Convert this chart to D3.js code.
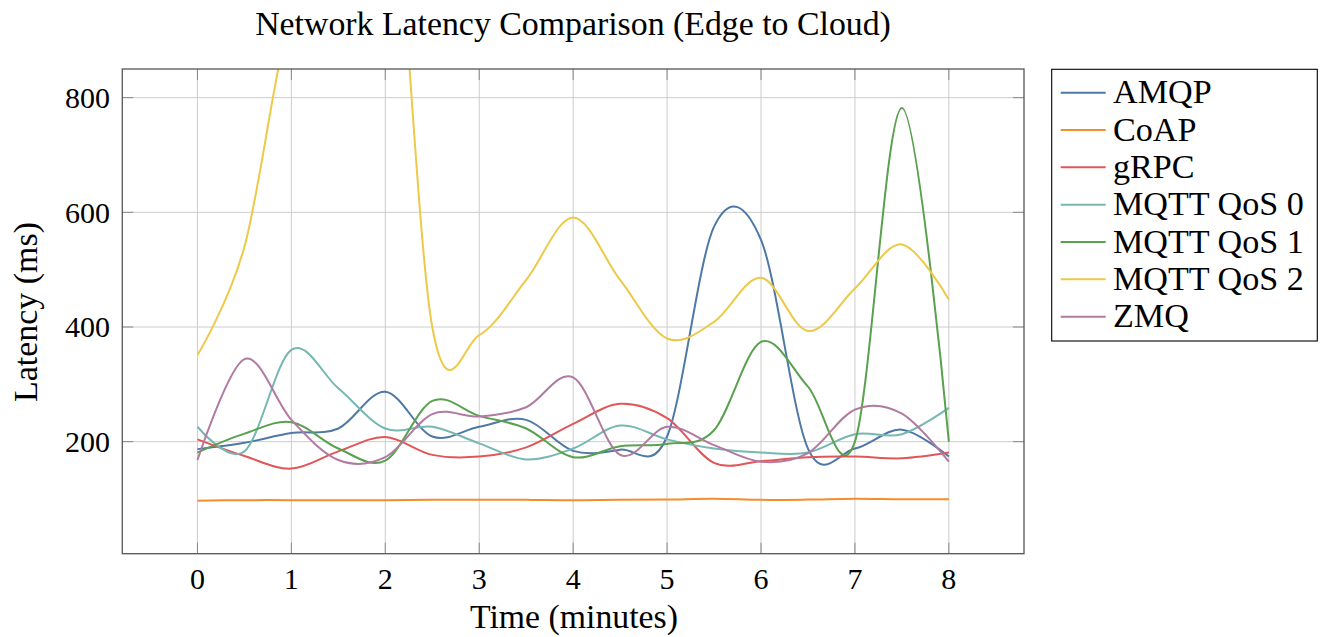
<!DOCTYPE html>
<html>
<head>
<meta charset="utf-8">
<script src="https://cdn.jsdelivr.net/npm/d3@7"></script>
<style>
  html, body { margin: 0; padding: 0; background: #ffffff; }
  svg { display: block; }
  text { font-family: "Liberation Serif", "Times New Roman", serif; fill: #000; }
</style>
</head>
<body>
<svg id="chart" width="1324" height="637"></svg>
<script>
// ---------- data ----------
const times = [0, 0.5, 1, 1.5, 2, 2.5, 3, 3.5, 4, 4.5, 5, 5.5, 6, 6.5, 7, 7.5, 8];
const seriesNames = ["AMQP", "CoAP", "gRPC", "MQTT QoS 0", "MQTT QoS 1", "MQTT QoS 2", "ZMQ"];
const amqp  = [187, 198, 215, 223, 287, 209, 226, 238, 184, 186, 209, 575, 552, 188, 188, 221, 174];
const coap  = [97, 98, 98, 98, 98, 98.5, 98.5, 98.5, 98, 98.5, 99, 100.5, 98.5, 99, 100.5, 99.5, 99.5];
const grpc  = [204, 175, 153, 183, 208, 177, 174, 190, 231, 266, 241, 163, 166, 173, 174, 171, 181];
const mqtt0 = [226, 183, 360, 293, 223, 226, 197, 169, 188, 228, 204, 188, 181, 181, 213, 213, 259];
const mqtt1 = [181, 214, 234, 188, 167, 271, 245, 223, 173, 192, 196, 220, 374, 296, 200, 782, 200];
const mqtt2 = [351, 540, 944, 1000, 1300, 400, 386, 482, 591, 482, 380, 409, 486, 393, 467, 544, 448];
const zmq   = [168, 344, 238, 168, 173, 248, 244, 260, 312, 177, 226, 194, 165, 180, 256, 249, 165];
const seriesValues = [amqp, coap, grpc, mqtt0, mqtt1, mqtt2, zmq];
const colors = ["#4e79a7", "#f28e2b", "#e15759", "#76b7b2", "#59a14f", "#edc948", "#b07aa1"];
const xTicks = [0, 1, 2, 3, 4, 5, 6, 7, 8];
const yTicks = [200, 400, 600, 800];
const xDomain = [-0.8, 8.8];
const yDomain = [4.6, 850];
const titleText = "Network Latency Comparison (Edge to Cloud)";
const xLabelText = "Time (minutes)";
const yLabelText = "Latency (ms)";

// ---------- layout ----------
const svg = d3.select("#chart");
const plot = { left: 122.3, top: 69, right: 1024, bottom: 553.7 };
const x = d3.scaleLinear().domain(xDomain).range([plot.left, plot.right]);
const y = d3.scaleLinear().domain(yDomain).range([plot.bottom, plot.top]);

function fitWidth(sel, target, base) {
  sel.style("font-size", base + "px");
  const w = sel.node().getComputedTextLength();
  const size = base * target / w;
  sel.style("font-size", size + "px");
  return size;
}

// grid
const grid = svg.append("g");
grid.selectAll("line.vx").data(xTicks).join("line")
  .attr("x1", d => x(d)).attr("x2", d => x(d))
  .attr("y1", plot.top).attr("y2", plot.bottom)
  .attr("stroke", "#cccccc").attr("stroke-width", 1);
grid.selectAll("line.hy").data(yTicks).join("line")
  .attr("y1", d => y(d)).attr("y2", d => y(d))
  .attr("x1", plot.left).attr("x2", plot.right)
  .attr("stroke", "#cccccc").attr("stroke-width", 1);

// ticks (inward, all four sides)
const tickLen = 11;
const tg = svg.append("g").attr("stroke", "#8a8a8a").attr("stroke-width", 1);
xTicks.forEach(d => {
  tg.append("line").attr("x1", x(d)).attr("x2", x(d)).attr("y1", plot.bottom).attr("y2", plot.bottom - tickLen);
  tg.append("line").attr("x1", x(d)).attr("x2", x(d)).attr("y1", plot.top).attr("y2", plot.top + tickLen);
});
yTicks.forEach(d => {
  tg.append("line").attr("y1", y(d)).attr("y2", y(d)).attr("x1", plot.left).attr("x2", plot.left + tickLen);
  tg.append("line").attr("y1", y(d)).attr("y2", y(d)).attr("x1", plot.right).attr("x2", plot.right - tickLen);
});

// clip
svg.append("clipPath").attr("id", "plotclip").append("rect")
  .attr("x", plot.left).attr("y", plot.top)
  .attr("width", plot.right - plot.left).attr("height", plot.bottom - plot.top);

// lines
const line = d3.line()
  .x((d, i) => x(times[i]))
  .y(d => y(d))
  .curve(d3.curveCardinal.tension(0));
const lg = svg.append("g").attr("clip-path", "url(#plotclip)");
seriesValues.forEach((vals, k) => {
  lg.append("path").datum(vals)
    .attr("d", line)
    .attr("fill", "none")
    .attr("stroke", colors[k])
    .attr("stroke-width", 2)
    .attr("stroke-linejoin", "round");
});

// frame
svg.append("rect")
  .attr("x", plot.left).attr("y", plot.top)
  .attr("width", plot.right - plot.left).attr("height", plot.bottom - plot.top)
  .attr("fill", "none").attr("stroke", "#555555").attr("stroke-width", 1.3);

// tick labels
svg.append("g").selectAll("text").data(xTicks).join("text")
  .attr("x", d => x(d)).attr("y", 589)
  .attr("text-anchor", "middle")
  .style("font-size", "30px")
  .text(d => d);
svg.append("g").selectAll("text").data(yTicks).join("text")
  .attr("x", 110).attr("y", d => y(d))
  .attr("dy", "0.34em")
  .attr("text-anchor", "end")
  .style("font-size", "30px")
  .text(d => d);

// title and axis labels
const title = svg.append("text").attr("x", 573).attr("y", 35)
  .attr("text-anchor", "middle").text(titleText);
fitWidth(title, 636, 28);
const xl = svg.append("text").attr("x", 574).attr("y", 628)
  .attr("text-anchor", "middle").text(xLabelText);
fitWidth(xl, 208, 30);
const yl = svg.append("text")
  .attr("transform", "translate(37,312) rotate(-90)")
  .attr("text-anchor", "middle").text(yLabelText);
fitWidth(yl, 180, 30);

// legend
const leg = svg.append("g");
leg.append("rect")
  .attr("x", 1051.7).attr("y", 69.3).attr("width", 265.6).attr("height", 271.7)
  .attr("fill", "#fff").attr("stroke", "#000").attr("stroke-width", 1.1);
const rowY = i => 92.7 + i * 37.33;
seriesNames.forEach((name, i) => {
  leg.append("line")
    .attr("x1", 1060.7).attr("x2", 1105.7)
    .attr("y1", rowY(i)).attr("y2", rowY(i))
    .attr("stroke", colors[i]).attr("stroke-width", 2);
});
const legTexts = leg.selectAll("text.lt").data(seriesNames).join("text")
  .attr("class", "lt")
  .attr("x", 1113).attr("y", (d, i) => rowY(i) + 10.5)
  .text(d => d);
const probe = legTexts.filter(d => d === "MQTT QoS 2");
const legSize = fitWidth(probe, 191, 30);
legTexts.style("font-size", legSize + "px");
</script>
</body>
</html>
